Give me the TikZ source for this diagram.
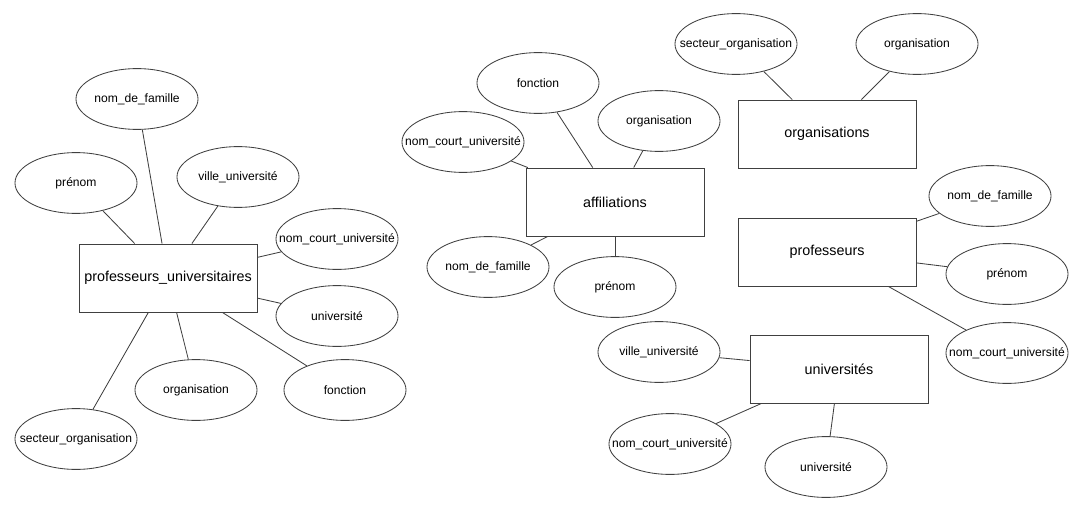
\documentclass[tikz,border=0pt]{standalone}
\usepackage{fontspec}
\setmainfont{Liberation Sans}
\usetikzlibrary{shapes.geometric}

\tikzset{
  entity/.style={draw=black!75, line width=0.6pt, fill=white, minimum width=4.45cm,
    minimum height=1.7cm, inner sep=0pt, font=\fontsize{10.2}{12}\selectfont},
  attr/.style={ellipse, draw=black!75, line width=0.6pt, fill=white, minimum width=3.05cm,
    minimum height=1.52cm, inner sep=0pt},
  attrtext/.style={font=\fontsize{8.6}{10}\selectfont, inner sep=0pt},
  link/.style={draw=black!75, line width=0.6pt}
}

\begin{document}
\begin{tikzpicture}[x=0.025cm,y=-0.025cm]
  \useasboundingbox (0,0) rectangle (1078,512);

  % professeurs_universitaires
  \node[entity] (pu) at (168,278) {professeurs\_universitaires};
  \node[attr, label={[attrtext]center:nom\_de\_famille}] (pu1) at (137,99) {};
  \node[attr, label={[attrtext]center:prénom}] (pu2) at (76,183) {};
  \node[attr, label={[attrtext]center:ville\_université}] (pu3) at (238,177) {};
  \node[attr, label={[attrtext]center:nom\_court\_université}] (pu4) at (337,239) {};
  \node[attr, label={[attrtext]center:université}] (pu5) at (337,316) {};
  \node[attr, label={[attrtext]center:fonction}] (pu6) at (345,390) {};
  \node[attr, label={[attrtext]center:organisation}] (pu7) at (196,390) {};
  \node[attr, label={[attrtext]center:secteur\_organisation}] (pu8) at (76,439) {};
  \foreach \i in {1,...,8}
    \draw[link] (pu) -- (pu\i);

  % affiliations
  \node[entity] (af) at (615,202) {affiliations};
  \node[attr, label={[attrtext]center:fonction}] (af1) at (538,83) {};
  \node[attr, label={[attrtext]center:organisation}] (af2) at (659,121) {};
  \node[attr, label={[attrtext]center:nom\_court\_université}] (af3) at (463,142) {};
  \node[attr, label={[attrtext]center:nom\_de\_famille}] (af4) at (488,267) {};
  \node[attr, label={[attrtext]center:prénom}] (af5) at (615,287) {};
  \foreach \i in {1,...,5}
    \draw[link] (af) -- (af\i);

  % organisations
  \node[entity] (org) at (827,134) {organisations};
  \node[attr, label={[attrtext]center:secteur\_organisation}] (org1) at (736,44) {};
  \node[attr, label={[attrtext]center:organisation}] (org2) at (917,44) {};
  \foreach \i in {1,2}
    \draw[link] (org) -- (org\i);

  % professeurs
  \node[entity] (pr) at (827,252) {professeurs};
  \node[attr, label={[attrtext]center:nom\_de\_famille}] (pr1) at (990,196) {};
  \node[attr, label={[attrtext]center:prénom}] (pr2) at (1007,274) {};
  \node[attr, label={[attrtext]center:nom\_court\_université}] (pr3) at (1007,353) {};
  \foreach \i in {1,2,3}
    \draw[link] (pr) -- (pr\i);

  % universites
  \node[entity] (un) at (839,369) {universités};
  \node[attr, label={[attrtext]center:ville\_université}] (un1) at (659,352) {};
  \node[attr, label={[attrtext]center:nom\_court\_université}] (un2) at (670,444) {};
  \node[attr, label={[attrtext]center:université}] (un3) at (826,467) {};
  \foreach \i in {1,2,3}
    \draw[link] (un) -- (un\i);
\end{tikzpicture}
\end{document}
